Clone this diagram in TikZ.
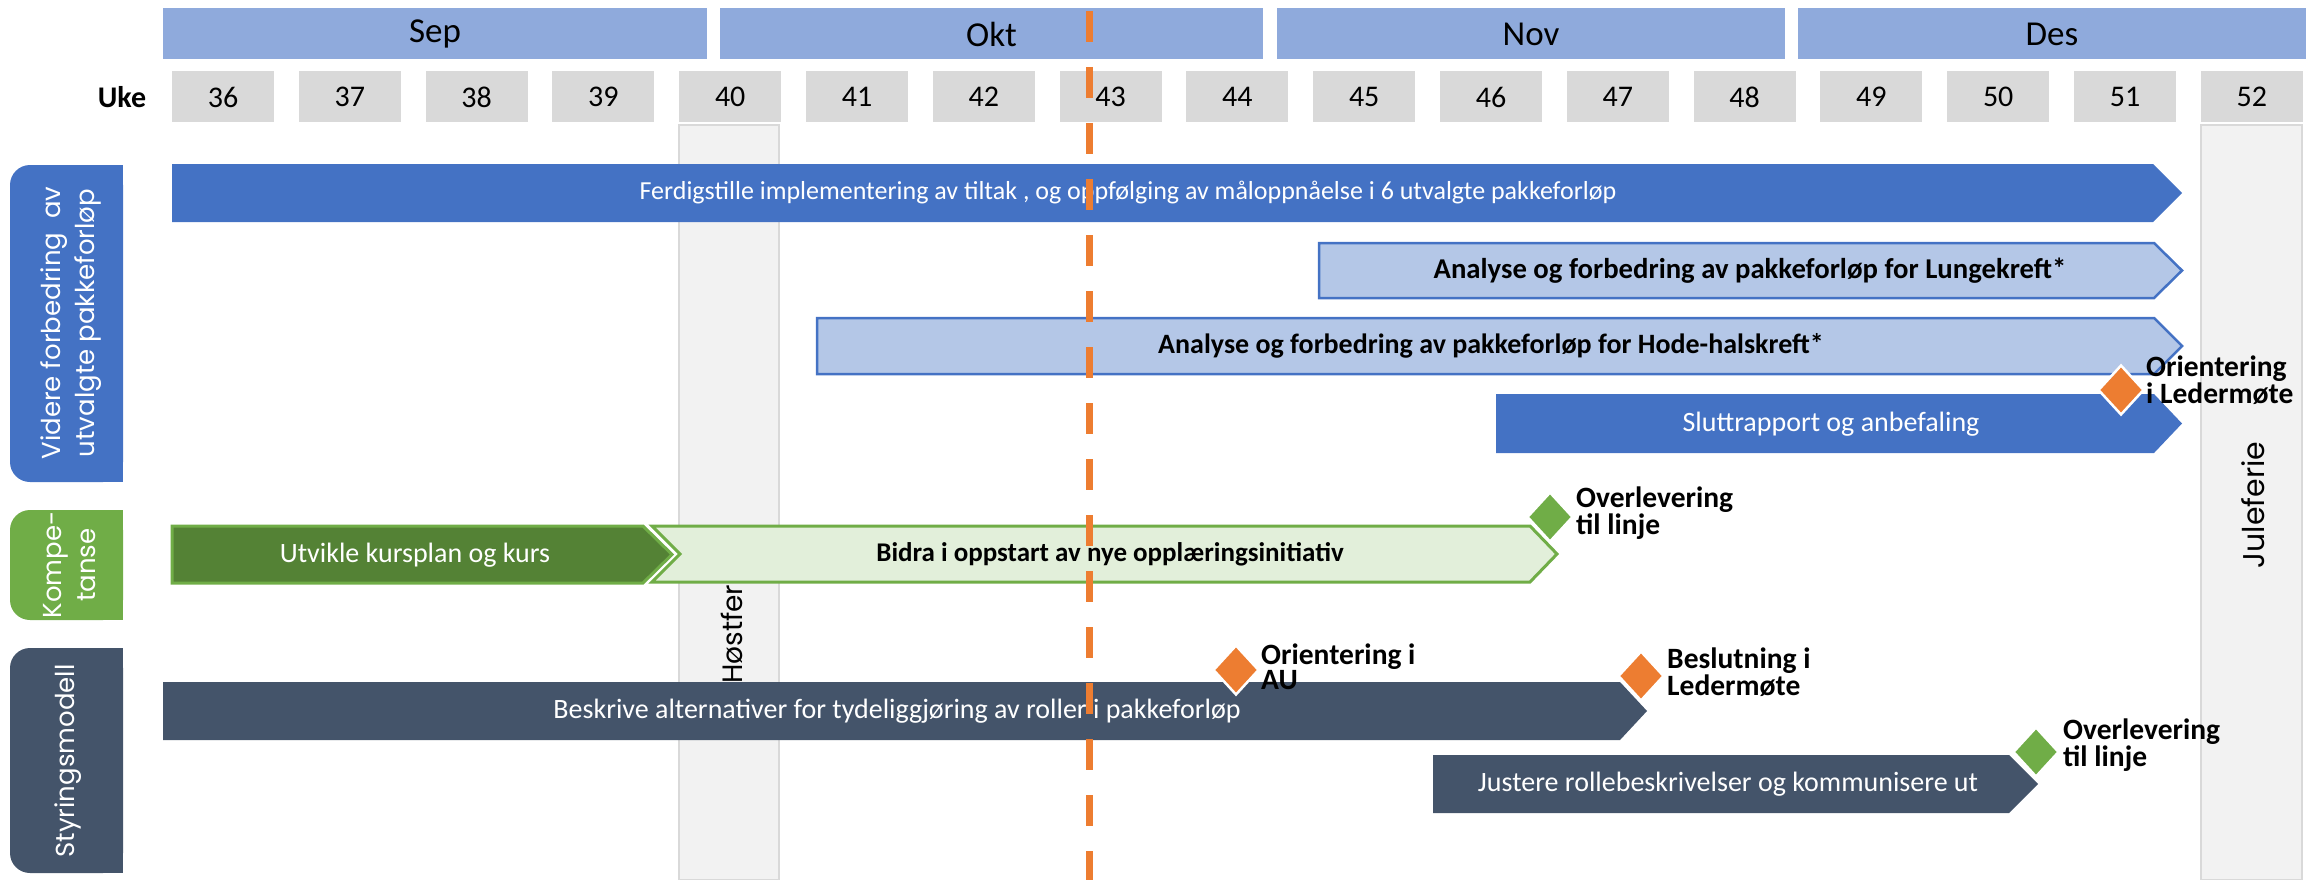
\documentclass[tikz,border=0pt]{standalone}
\usepackage{fontspec}
\setmainfont{Carlito}
\newfontfamily\gothic{Poppins}
\usetikzlibrary{shapes.geometric}

\definecolor{monthblue}{HTML}{8FAADC}
\definecolor{weekgray}{HTML}{D9D9D9}
\definecolor{colfill}{HTML}{F2F2F2}
\definecolor{blueA}{HTML}{4472C4}
\definecolor{blueL}{HTML}{B4C7E7}
\definecolor{slate}{HTML}{44546A}
\definecolor{greenD}{HTML}{548235}
\definecolor{greenM}{HTML}{70AD47}
\definecolor{greenL}{HTML}{E2EFDA}
\definecolor{orangeM}{HTML}{ED7D31}

% pentagon arrow bar: options, left x, body end x, top y, bottom y, tip depth
\newcommand\chevbar[6]{%
  \path[#1] (#2,#4) -- (#3,#4) -- ({#3+#6},{(#4+#5)/2}) -- (#3,#5) -- (#2,#5) -- cycle;}

\tikzset{
  monthbox/.style={fill=monthblue, draw=none, minimum height=51pt, inner sep=0,
    font=\fontsize{35}{40}\selectfont},
  weekbox/.style={fill=weekgray, draw=none, minimum width=102pt, minimum height=51pt,
    inner sep=0, font=\fontsize{30}{34}\selectfont},
  holiday/.style={fill=colfill, draw=weekgray, line width=2pt},
  holidaytext/.style={rotate=90, inner sep=0, font=\gothic\fontsize{28}{34}\selectfont},
  lanetext/.style={rotate=90, inner sep=0, text=white, align=center,
    font=\gothic\fontsize{26}{34}\selectfont},
  bartext/.style={inner sep=0, text=white, font=\fontsize{28}{34}\selectfont},
  boldbartext/.style={inner sep=0, text=black, font=\bfseries\fontsize{27}{34}\selectfont},
  milestone/.style={shape=diamond, draw=white, line width=2.5pt, inner sep=0,
    minimum width=46pt, minimum height=50pt},
  mslabel/.style={inner sep=0, anchor=west, align=left,
    font=\bfseries\fontsize{29.5}{25}\selectfont},
  today/.style={draw=orangeM, line width=7pt, dash pattern=on 31pt off 25pt},
}

\begin{document}
\begin{tikzpicture}[x=1pt,y=-1pt]
\useasboundingbox (0,0) rectangle (2320,880);

% holiday columns
\path[holiday] (679,125) rectangle (779,880);
\path[holiday] (2201,125) rectangle (2302,880);
\node[holidaytext, anchor=west] (hostferie) at (732,684) {Høstferie};
\node[holidaytext, font=\gothic\fontsize{30}{34}\selectfont] (juleferie) at (2253,505) {Juleferie};

% months
\node[monthbox, minimum width=544pt] (sep) at (435,34) {Sep};
\node[monthbox, minimum width=543pt] (okt) at (991.5,34) {Okt};
\node[monthbox, minimum width=508pt] (nov) at (1531,34) {Nov};
\node[monthbox, minimum width=508pt] (des) at (2052,34) {Des};

% weeks
\node[font=\bfseries\fontsize{30}{34}\selectfont, inner sep=0] (uke) at (122,97) {Uke};
\foreach \w in {36,...,52}{
  \node[weekbox] (w\w) at ({172+(\w-36)*126.8+51},97) {\w};
}

% lane labels
\fill[blueA, rounded corners=20pt] (10,165) rectangle (123,482);
\fill[blueA] (70,165) rectangle (123,482);
\node[lanetext] (lane1) at (71,323) {Videre forbedring\ \ av\\utvalgte pakkeforløp};
\fill[greenM, rounded corners=20pt] (10,510) rectangle (123,620);
\fill[greenM] (70,510) rectangle (123,620);
\node[lanetext] (lane2) at (70,565) {Kompe-\\tanse};
\fill[slate, rounded corners=20pt] (10,648) rectangle (123,873);
\fill[slate] (70,648) rectangle (123,873);
\node[lanetext] (lane3) at (68,761) {Styringsmodell};

% lane 1 activities
\chevbar{fill=blueA}{172}{2153}{164}{222}{29}
\node[bartext, font=\fontsize{26}{32}\selectfont] (a1) at (1128,193) {Ferdigstille implementering av tiltak , og oppfølging av måloppnåelse i 6 utvalgte pakkeforløp};
\chevbar{fill=blueL, draw=blueA, line width=2.5pt}{1319}{2154}{243}{298}{28}
\node[boldbartext, font=\bfseries\fontsize{28.7}{34}\selectfont] (a2) at (1750,271) {Analyse og forbedring av pakkeforløp for Lungekreft*};
\chevbar{fill=blueL, draw=blueA, line width=2.5pt}{817}{2154}{318}{374}{28}
\node[boldbartext, font=\bfseries\fontsize{28}{34}\selectfont] (a3) at (1491,346) {Analyse og forbedring av pakkeforløp for Hode-halskreft*};
\chevbar{fill=blueA}{1496}{2154}{394}{453}{28}
\node[bartext] (a4) at (1831,424) {Sluttrapport og anbefaling};

% lane 2 activities
\chevbar{fill=greenD, draw=greenM, line width=3pt}{172}{643}{526}{583}{29}
\node[bartext] (b1) at (415,555) {Utvikle kursplan og kurs};
\path[fill=greenL, draw=greenM, line width=3pt]
  (652,526) -- (1530,526) -- (1557,554) -- (1530,582) -- (652,582) -- (680,554) -- cycle;
\node[boldbartext] (b2) at (1110,554) {Bidra i oppstart av nye opplæringsinitiativ};

% lane 3 activities
\chevbar{fill=slate}{163}{1620}{682}{740}{27}
\node[bartext] (c1) at (897,711) {Beskrive alternativer for tydeliggjøring av roller i pakkeforløp};
\chevbar{fill=slate}{1433}{2009}{755}{813}{29}
\node[bartext] (c2) at (1728,784) {Justere rollebeskrivelser og kommunisere ut};

% milestones
\node[milestone, fill=orangeM] (m1) at (2121,390) {};
\node[mslabel] (m1t) at (2146,380) {Orientering\\i Ledermøte};
\node[milestone, fill=greenM] (m2) at (1550,517) {};
\node[mslabel] (m2t) at (1576,513) {Overlevering\\til linje};
\node[milestone, fill=orangeM] (m3) at (1236,670) {};
\node[mslabel] (m3t) at (1261,667) {Orientering i\\AU};
\node[milestone, fill=orangeM] (m4) at (1641,676) {};
\node[mslabel] (m4t) at (1667,672) {Beslutning i\\Ledermøte};
\node[milestone, fill=greenM] (m5) at (2036,752) {};
\node[mslabel] (m5t) at (2063,745) {Overlevering\\til linje};

% current week marker
\coordinate (nowtop) at (1089,11);
\coordinate (nowbot) at (1089,880);
\draw[today] (nowtop) -- (nowbot);
\end{tikzpicture}
\end{document}
